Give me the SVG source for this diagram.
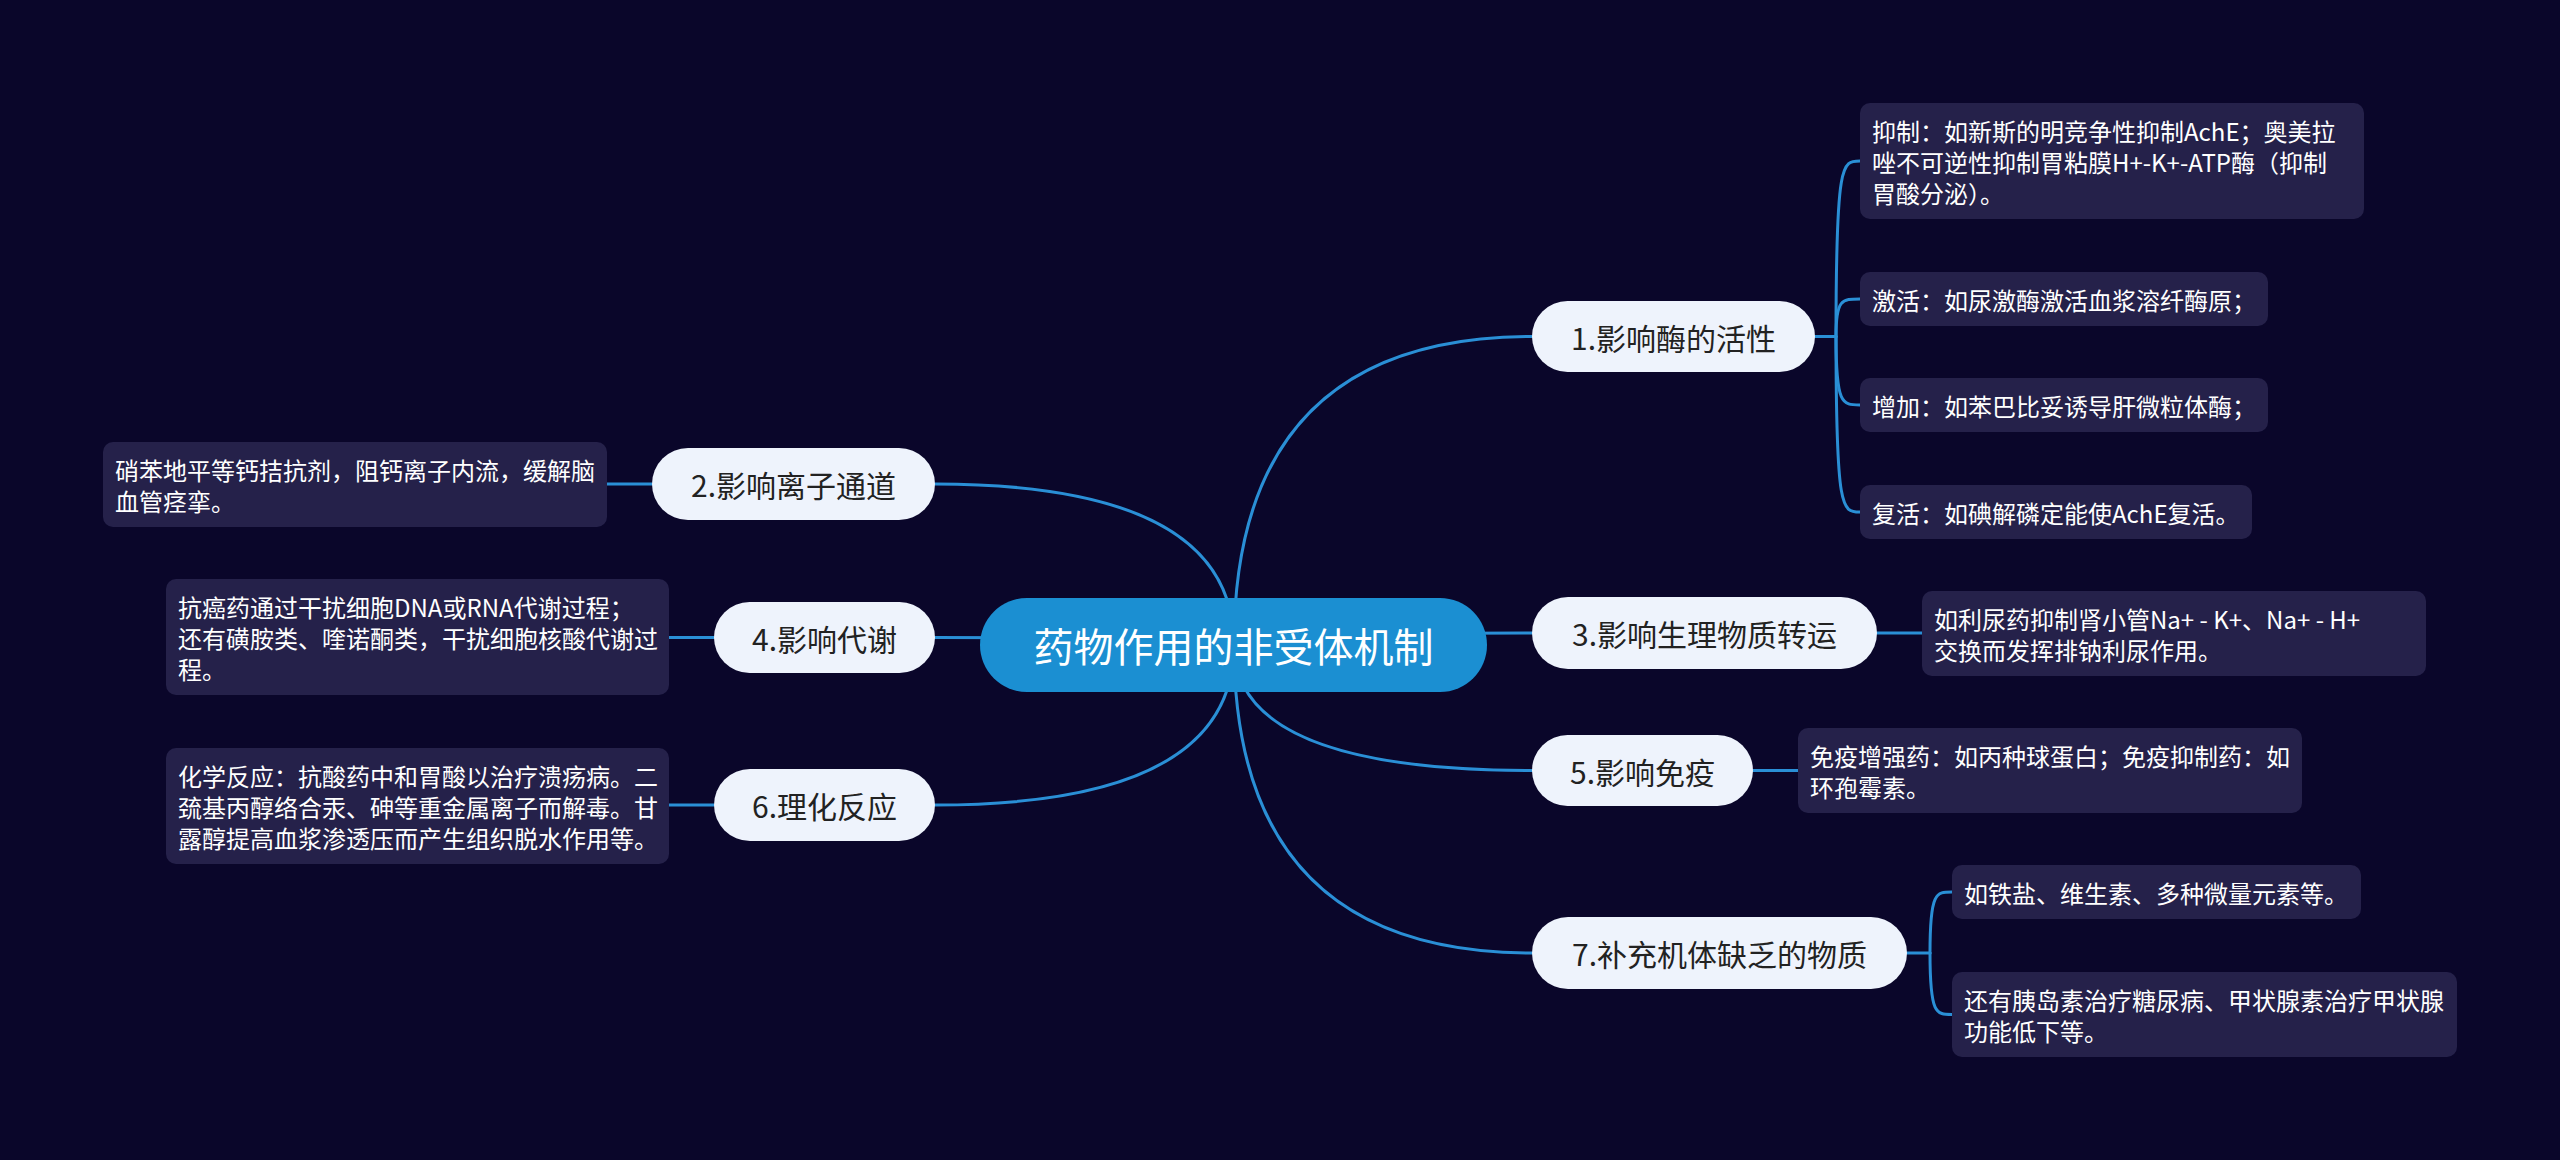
<svg xmlns="http://www.w3.org/2000/svg" width="2560" height="1160" viewBox="0 0 2560 1160">
<style>
.bg{fill:#0a062a}
.ln{fill:none;stroke:#2a8fd6;stroke-width:3;stroke-linecap:round}
.root rect{fill:#1b8fd2}
.root text{fill:#ffffff;font-size:40px}
.topic rect{fill:#eef3fc}
.topic text{fill:#222222;font-size:30px}
.leaf rect{fill:#25214a}
.leaf text{fill:#ffffff;font-size:24px}
text{font-family:"Noto Sans CJK SC","Noto Sans",sans-serif;dominant-baseline:central}
.c{text-anchor:middle}
</style>
<rect class="bg" x="0" y="0" width="2560" height="1160"/>
<g id="connectors">
<path class="ln" d="M1234,645 Q1234,336.5 1532,336.5"/>
<path class="ln" d="M1234,645 Q1234,633 1532,633"/>
<path class="ln" d="M1234,645 Q1234,770.5 1532,770.5"/>
<path class="ln" d="M1234,645 Q1234,953 1532,953"/>
<path class="ln" d="M1234,645 Q1234,484 935,484"/>
<path class="ln" d="M1234,645 Q1234,637.5 935,637.5"/>
<path class="ln" d="M1234,645 Q1234,805 935,805"/>
<path class="ln" d="M1815,336.5 H1836"/>
<path class="ln" d="M1836,336.5 C1836,161 1842,161 1860,161"/>
<path class="ln" d="M1836,336.5 C1836,299 1842,299 1860,299"/>
<path class="ln" d="M1836,336.5 C1836,405 1842,405 1860,405"/>
<path class="ln" d="M1836,336.5 C1836,512 1842,512 1860,512"/>
<path class="ln" d="M1877,633 H1922"/>
<path class="ln" d="M1753,770.5 H1798"/>
<path class="ln" d="M1907,953 H1930"/>
<path class="ln" d="M1930,953 C1930,892 1936,892 1952,892"/>
<path class="ln" d="M1930,953 C1930,1014.5 1936,1014.5 1952,1014.5"/>
<path class="ln" d="M652,484 H607"/>
<path class="ln" d="M714,637.5 H669"/>
<path class="ln" d="M714,805 H669"/>
</g>
<g id="root" class="root">
<rect x="980" y="598" width="507" height="94" rx="47"/>
<text class="c" x="1233.5" y="645">药物作用的非受体机制</text>
</g>
<g id="t1" class="topic"><rect x="1532" y="301" width="283" height="71" rx="35.5"/><text class="c" x="1673.5" y="336.5">1.影响酶的活性</text></g>
<g id="t3" class="topic"><rect x="1532" y="597" width="345" height="72" rx="36"/><text class="c" x="1704.5" y="633">3.影响生理物质转运</text></g>
<g id="t5" class="topic"><rect x="1532" y="735" width="221" height="71" rx="35.5"/><text class="c" x="1642.5" y="770.5">5.影响免疫</text></g>
<g id="t7" class="topic"><rect x="1532" y="917" width="375" height="72" rx="36"/><text class="c" x="1719.5" y="953">7.补充机体缺乏的物质</text></g>
<g id="t2" class="topic"><rect x="652" y="448" width="283" height="72" rx="36"/><text class="c" x="793.5" y="484">2.影响离子通道</text></g>
<g id="t4" class="topic"><rect x="714" y="602" width="221" height="71" rx="35.5"/><text class="c" x="824.5" y="637.5">4.影响代谢</text></g>
<g id="t6" class="topic"><rect x="714" y="769" width="221" height="72" rx="36"/><text class="c" x="824.5" y="805">6.理化反应</text></g>
<g id="l1a" class="leaf"><rect x="1860" y="103" width="504" height="116" rx="10"/>
<text x="1872" y="130">抑制：如新斯的明竞争性抑制AchE；奥美拉</text>
<text x="1872" y="161">唑不可逆性抑制胃粘膜H+-K+-ATP酶（抑制</text>
<text x="1872" y="192">胃酸分泌）。</text></g>
<g id="l1b" class="leaf"><rect x="1860" y="272" width="408" height="54" rx="10"/><text x="1872" y="299">激活：如尿激酶激活血浆溶纤酶原；</text></g>
<g id="l1c" class="leaf"><rect x="1860" y="378" width="408" height="54" rx="10"/><text x="1872" y="405">增加：如苯巴比妥诱导肝微粒体酶；</text></g>
<g id="l1d" class="leaf"><rect x="1860" y="485" width="392" height="54" rx="10"/><text x="1872" y="512">复活：如碘解磷定能使AchE复活。</text></g>
<g id="l3" class="leaf"><rect x="1922" y="591" width="504" height="85" rx="10"/>
<text x="1934" y="618">如利尿药抑制肾小管Na+ - K+、Na+ - H+</text>
<text x="1934" y="649">交换而发挥排钠利尿作用。</text></g>
<g id="l5" class="leaf"><rect x="1798" y="728" width="504" height="85" rx="10"/>
<text x="1810" y="755">免疫增强药：如丙种球蛋白；免疫抑制药：如</text>
<text x="1810" y="786">环孢霉素。</text></g>
<g id="l7a" class="leaf"><rect x="1952" y="865" width="409" height="54" rx="10"/><text x="1964" y="892">如铁盐、维生素、多种微量元素等。</text></g>
<g id="l7b" class="leaf"><rect x="1952" y="972" width="505" height="85" rx="10"/>
<text x="1964" y="999">还有胰岛素治疗糖尿病、甲状腺素治疗甲状腺</text>
<text x="1964" y="1030">功能低下等。</text></g>
<g id="l2" class="leaf"><rect x="103" y="442" width="504" height="85" rx="10"/>
<text x="115" y="469">硝苯地平等钙拮抗剂，阻钙离子内流，缓解脑</text>
<text x="115" y="500">血管痉挛。</text></g>
<g id="l4" class="leaf"><rect x="166" y="579" width="503" height="116" rx="10"/>
<text x="178" y="606">抗癌药通过干扰细胞DNA或RNA代谢过程；</text>
<text x="178" y="637">还有磺胺类、喹诺酮类，干扰细胞核酸代谢过</text>
<text x="178" y="668">程。</text></g>
<g id="l6" class="leaf"><rect x="166" y="748" width="503" height="116" rx="10"/>
<text x="178" y="775">化学反应：抗酸药中和胃酸以治疗溃疡病。二</text>
<text x="178" y="806">巯基丙醇络合汞、砷等重金属离子而解毒。甘</text>
<text x="178" y="837">露醇提高血浆渗透压而产生组织脱水作用等。</text></g>
</svg>
